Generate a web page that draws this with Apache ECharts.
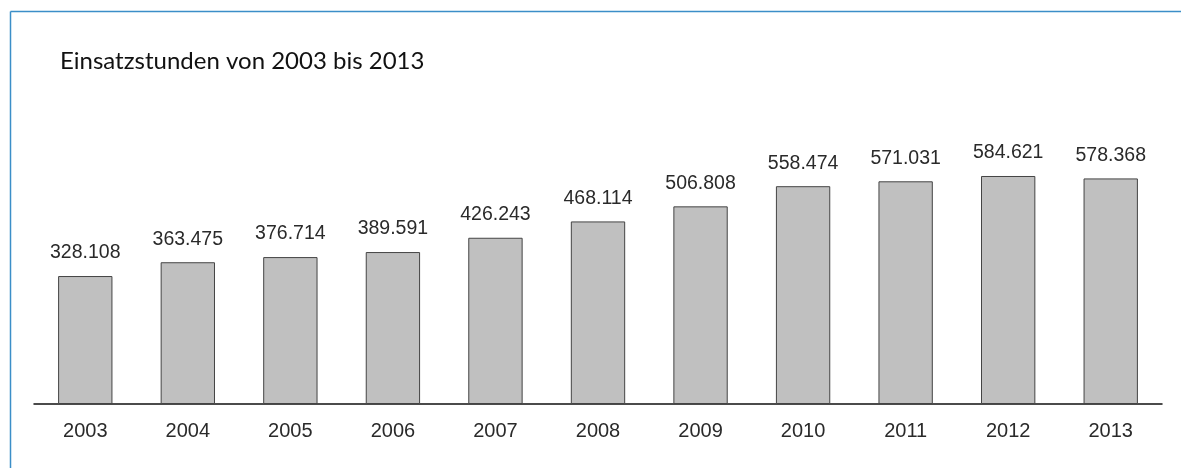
<!DOCTYPE html>
<html>
<head>
<meta charset="utf-8">
<script src="https://cdn.jsdelivr.net/npm/echarts@6/dist/echarts.min.js"></script>
<style>
  html, body { margin: 0; padding: 0; background: #fff; }
  #chart { width: 1181px; height: 468px; }
</style>
</head>
<body>
<div id="chart"></div>
<script>
// Einsatzstunden je Jahr
const years = ['2003', '2004', '2005', '2006', '2007', '2008', '2009', '2010', '2011', '2012', '2013'];
const hours = [328108, 363475, 376714, 389591, 426243, 468114, 506808, 558474, 571031, 584621, 578368];
const titleText = 'Einsatzstunden von 2003 bis 2013';

// German thousands separator
function fmt(v) {
  return String(v).replace(/\B(?=(\d{3})+(?!\d))/g, '.');
}

const chart = echarts.init(document.getElementById('chart'), null, { renderer: 'canvas' });
chart.setOption({
  animation: false,
  backgroundColor: '#fff',
  title: {
    text: titleText,
    left: 55,
    top: 44,
    textStyle: { fontFamily: 'Lato', fontWeight: 'normal', fontSize: 24, color: '#111' }
  },
  graphic: [
    { type: 'line', shape: { x1: 10.5, y1: 11.5, x2: 1181, y2: 11.5 }, style: { stroke: '#3b8ec8', lineWidth: 1.5 } },
    { type: 'line', shape: { x1: 10.5, y1: 11.5, x2: 10.5, y2: 468 }, style: { stroke: '#3b8ec8', lineWidth: 1.5 } }
  ],
  grid: { left: 34, right: 19, top: 131, bottom: 64 },
  xAxis: {
    type: 'category',
    data: years,
    axisLine: { lineStyle: { color: '#111', width: 1.5 } },
    axisTick: { show: false },
    axisLabel: { margin: 17, fontFamily: 'Liberation Sans', fontSize: 20, color: '#2a2a2a' }
  },
  yAxis: {
    type: 'value',
    min: 0,
    max: 700000,
    show: false,
    splitLine: { show: false }
  },
  series: [{
    type: 'bar',
    data: hours,
    barWidth: '53%',
    itemStyle: { color: '#c0c0c0', borderColor: '#444', borderWidth: 1 },
    label: {
      show: true,
      position: 'top',
      distance: 13,
      fontFamily: 'Liberation Sans',
      fontSize: 19.5,
      color: '#2a2a2a',
      formatter: p => fmt(p.value)
    }
  }]
});
</script>
</body>
</html>
